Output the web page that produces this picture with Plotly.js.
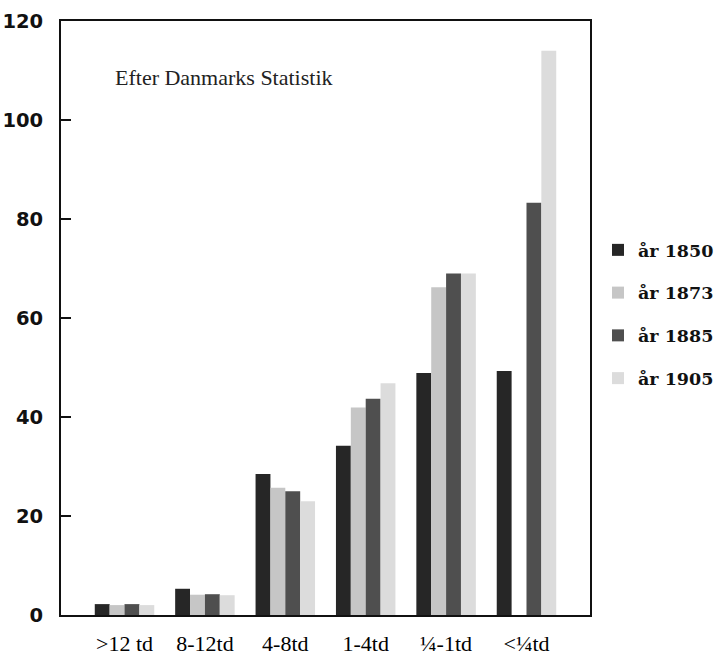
<!DOCTYPE html>
<html>
<head>
<meta charset="utf-8">
<script src="https://cdn.plot.ly/plotly-3.0.1.min.js"></script>
<style>html,body{margin:0;padding:0;background:#fff;}#chart{width:721px;height:660px;}</style>
</head>
<body>
<div id="chart"></div>
<script>
const categories = [">12 td", "8-12td", "4-8td", "1-4td", "¼-1td", "<¼td"];
const series1850 = [2.2, 5.3, 28.5, 34.2, 48.9, 49.3];
const series1873 = [2.0, 4.1, 25.7, 41.9, 66.2, null];
const series1885 = [2.2, 4.2, 25.0, 43.7, 69.0, 83.3];
const series1905 = [2.0, 4.0, 23.0, 46.8, 69.0, 114.0];
const seriesNames = ["år 1850", "år 1873", "år 1885", "år 1905"];
const yTicks = [0, 20, 40, 60, 80, 100, 120];

const colors = ["#262626", "#c6c6c6", "#4f4f4f", "#dcdcdc"];
const allSeries = [series1850, series1873, series1885, series1905];

const traces = allSeries.map((vals, i) => ({
  type: "bar",
  name: seriesNames[i],
  x: categories,
  y: vals,
  legendgroup: "g" + i,
  marker: {color: colors[i], line: {width: 0}},
  hoverinfo: "x+y+name"
}));

const layout = {
  width: 721,
  height: 660,
  margin: {l: 61, r: 131, t: 21, b: 45, autoexpand: false},
  paper_bgcolor: "#ffffff",
  plot_bgcolor: "#ffffff",
  barmode: "group",
  bargap: 0.26,
  bargroupgap: 0,
  showlegend: true,
  legend: {
    xref: "container", yref: "container",
    x: 0.8294, xanchor: "left",
    y: 0.6485, yanchor: "top",
    font: {family: "DejaVu Serif", size: 17.5, color: "#111", weight: "bold"},
    tracegroupgap: 17,
    itemwidth: 30,
    bgcolor: "rgba(0,0,0,0)"
  },
  xaxis: {
    type: "category",
    range: [-0.79, 5.79],
    showline: true, linecolor: "#111", linewidth: 2, mirror: true,
    ticks: "", showgrid: false, zeroline: false,
    tickfont: {family: "Liberation Serif", size: 22, color: "#000"},
    ticklabelstandoff: 8
  },
  yaxis: {
    range: [0, 120],
    tickvals: yTicks,
    ticktext: yTicks.map(String),
    showline: true, linecolor: "#111", linewidth: 2, mirror: true,
    ticks: "inside", ticklen: 10, tickwidth: 2, tickcolor: "#111",
    showgrid: false, zeroline: false,
    tickfont: {family: "DejaVu Sans", size: 19.5, color: "#111", weight: "bold"},
    ticklabelstandoff: 12
  },
  annotations: [{
    text: "Efter Danmarks Statistik",
    xref: "paper", yref: "paper",
    x: 0.098, y: 0.905, xanchor: "left", yanchor: "middle",
    showarrow: false,
    font: {family: "Liberation Serif", size: 22, color: "#222"}
  }]
};

Plotly.newPlot("chart", traces, layout, {displayModeBar: false, staticPlot: true});
</script>
</body>
</html>
